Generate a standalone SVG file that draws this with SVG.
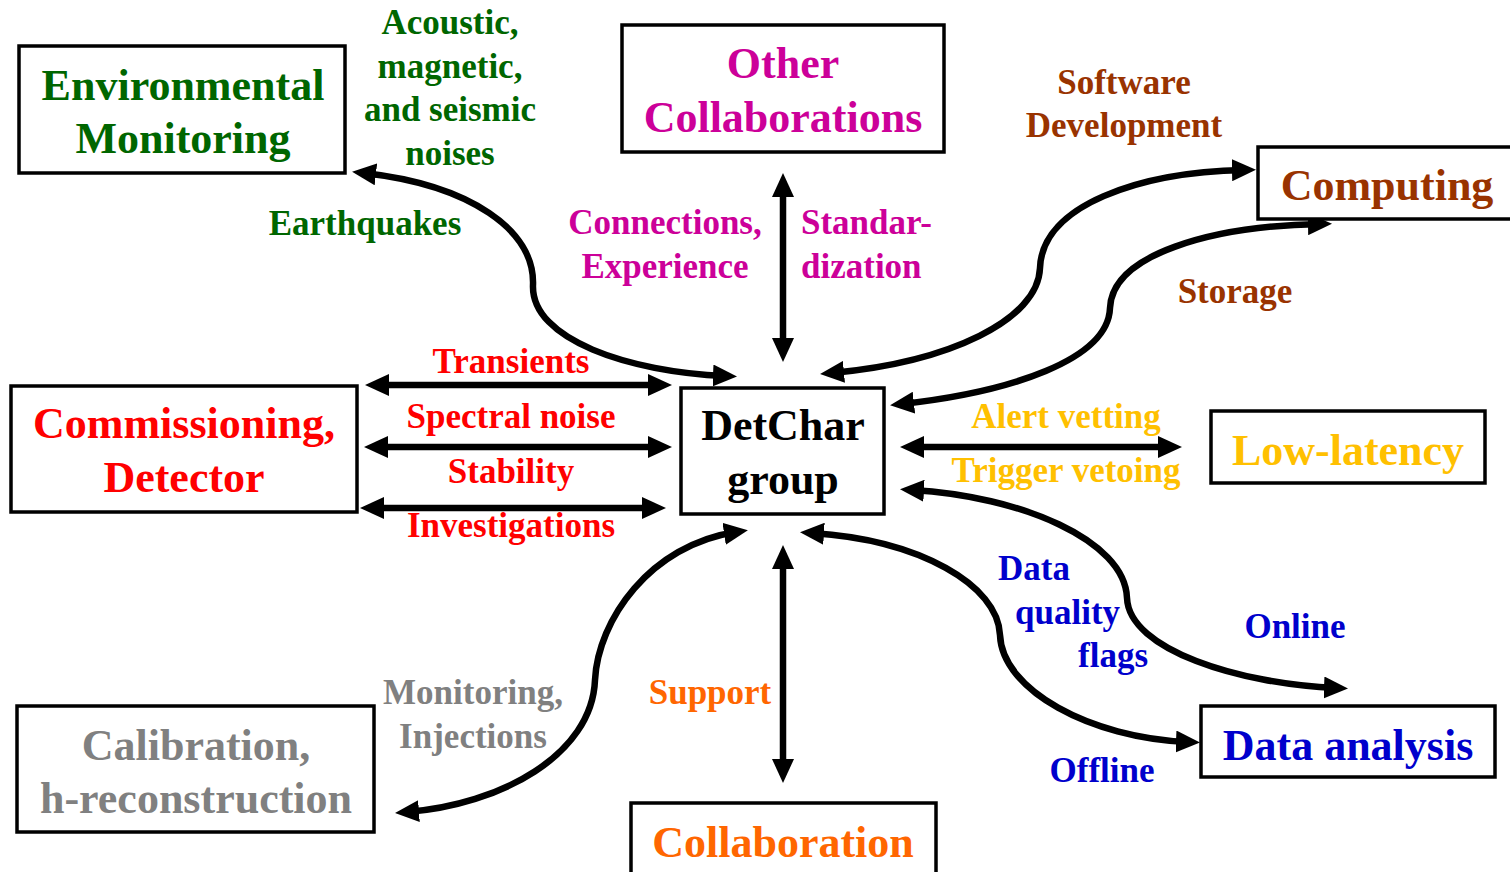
<svg xmlns="http://www.w3.org/2000/svg" width="1510" height="872" viewBox="0 0 1510 872">
<style>
text{font-family:"Liberation Serif","Times New Roman",serif;font-weight:bold;text-anchor:middle}
.box{fill:#fff;stroke:#000;stroke-width:3.5}
.t{font-size:44px}
.l{font-size:35px}
.c{fill:none;stroke:#000;stroke-width:6.5;marker-start:url(#ah);marker-end:url(#ah)}
.green{fill:#006600}.mag{fill:#cc0099}.brown{fill:#993300}.red{fill:#ff0000}
.gold{fill:#ffc000}.gray{fill:#808080}.orange{fill:#ff6600}.blue{fill:#0000cc}.black{fill:#000}
</style>
<defs>
<marker id="ah" viewBox="0 0 24 22" refX="12" refY="11" markerWidth="24" markerHeight="22" markerUnits="userSpaceOnUse" orient="auto-start-reverse">
<path d="M0,0 L24,11 L0,22 z" fill="#000"/>
</marker>
</defs>
<rect width="1510" height="872" fill="#fff"/>

<g id="connectors">
<path class="c" d="M 364 173 C 470 185, 535 230, 533 285 C 531 340, 630 372, 725 376"/>
<path class="c" d="M 783 185 V 350"/>
<path class="c" d="M 832 373 C 950 362, 1038 320, 1040 268 C 1042 205, 1140 172, 1244 170"/>
<path class="c" d="M 902 404 C 1010 392, 1108 360, 1110 308 C 1112 255, 1210 226, 1320 224"/>
<path class="c" d="M 377 385 H 660"/>
<path class="c" d="M 376 447 H 660"/>
<path class="c" d="M 372 508 H 654"/>
<path class="c" d="M 912 447 H 1170"/>
<path class="c" d="M 912 490 C 1020 496, 1125 540, 1127 598 C 1129 650, 1240 684, 1336 688"/>
<path class="c" d="M 812 533 C 920 540, 998 585, 1000 635 C 1002 690, 1090 738, 1188 742"/>
<path class="c" d="M 736 532 C 650 545, 598 620, 595 680 C 592 755, 500 805, 407 812"/>
<path class="c" d="M 783 557 V 771"/>
</g>

<g id="labels">
<text class="l green" x="450" y="34">Acoustic,</text>
<text class="l green" x="450" y="78">magnetic,</text>
<text class="l green" x="450" y="121">and seismic</text>
<text class="l green" x="450" y="165">noises</text>
<text class="l green" x="365" y="235">Earthquakes</text>
<text class="l mag" x="665" y="234">Connections,</text>
<text class="l mag" x="665" y="278">Experience</text>
<text class="l mag" x="801" y="234" style="text-anchor:start">Standar-</text>
<text class="l mag" x="801" y="278" style="text-anchor:start">dization</text>
<text class="l brown" x="1124" y="94">Software</text>
<text class="l brown" x="1124" y="137">Development</text>
<text class="l brown" x="1235" y="303">Storage</text>
<text class="l red" x="511" y="373">Transients</text>
<text class="l red" x="511" y="428">Spectral noise</text>
<text class="l red" x="511" y="483">Stability</text>
<text class="l red" x="511" y="537">Investigations</text>
<text class="l gold" x="1066" y="428">Alert vetting</text>
<text class="l gold" x="1066" y="482">Trigger vetoing</text>
<text class="l blue" x="998" y="580" style="text-anchor:start">Data</text>
<text class="l blue" x="1015" y="624" style="text-anchor:start">quality</text>
<text class="l blue" x="1078" y="667" style="text-anchor:start">flags</text>
<text class="l blue" x="1295" y="638">Online</text>
<text class="l blue" x="1102" y="782">Offline</text>
<text class="l gray" x="473" y="704">Monitoring,</text>
<text class="l gray" x="473" y="748">Injections</text>
<text class="l orange" x="710" y="704">Support</text>
</g>

<g id="environmental">
<rect class="box" x="19" y="46" width="326" height="127"/>
<text class="t green" x="183" y="100">Environmental</text>
<text class="t green" x="183" y="153">Monitoring</text>
</g>
<g id="other-collaborations">
<rect class="box" x="622" y="25" width="322" height="127"/>
<text class="t mag" x="783" y="78">Other</text>
<text class="t mag" x="783" y="132">Collaborations</text>
</g>
<g id="computing">
<rect class="box" x="1258" y="147" width="254" height="72"/>
<text class="t brown" x="1387" y="200">Computing</text>
</g>
<g id="commissioning">
<rect class="box" x="11" y="386" width="346" height="126"/>
<text class="t red" x="184" y="438">Commissioning,</text>
<text class="t red" x="184" y="492">Detector</text>
</g>
<g id="detchar">
<rect class="box" x="681" y="388" width="203" height="126"/>
<text class="t black" x="783" y="440">DetChar</text>
<text class="t black" x="783" y="494">group</text>
</g>
<g id="low-latency">
<rect class="box" x="1211" y="411" width="274" height="72"/>
<text class="t gold" x="1348" y="465">Low-latency</text>
</g>
<g id="calibration">
<rect class="box" x="17" y="706" width="357" height="126"/>
<text class="t gray" x="196" y="760">Calibration,</text>
<text class="t gray" x="196" y="813">h-reconstruction</text>
</g>
<g id="collaboration">
<rect class="box" x="631" y="803" width="305" height="80"/>
<text class="t orange" x="783" y="857">Collaboration</text>
</g>
<g id="data-analysis">
<rect class="box" x="1201" y="706" width="294" height="71"/>
<text class="t blue" x="1348" y="760">Data analysis</text>
</g>
</svg>
